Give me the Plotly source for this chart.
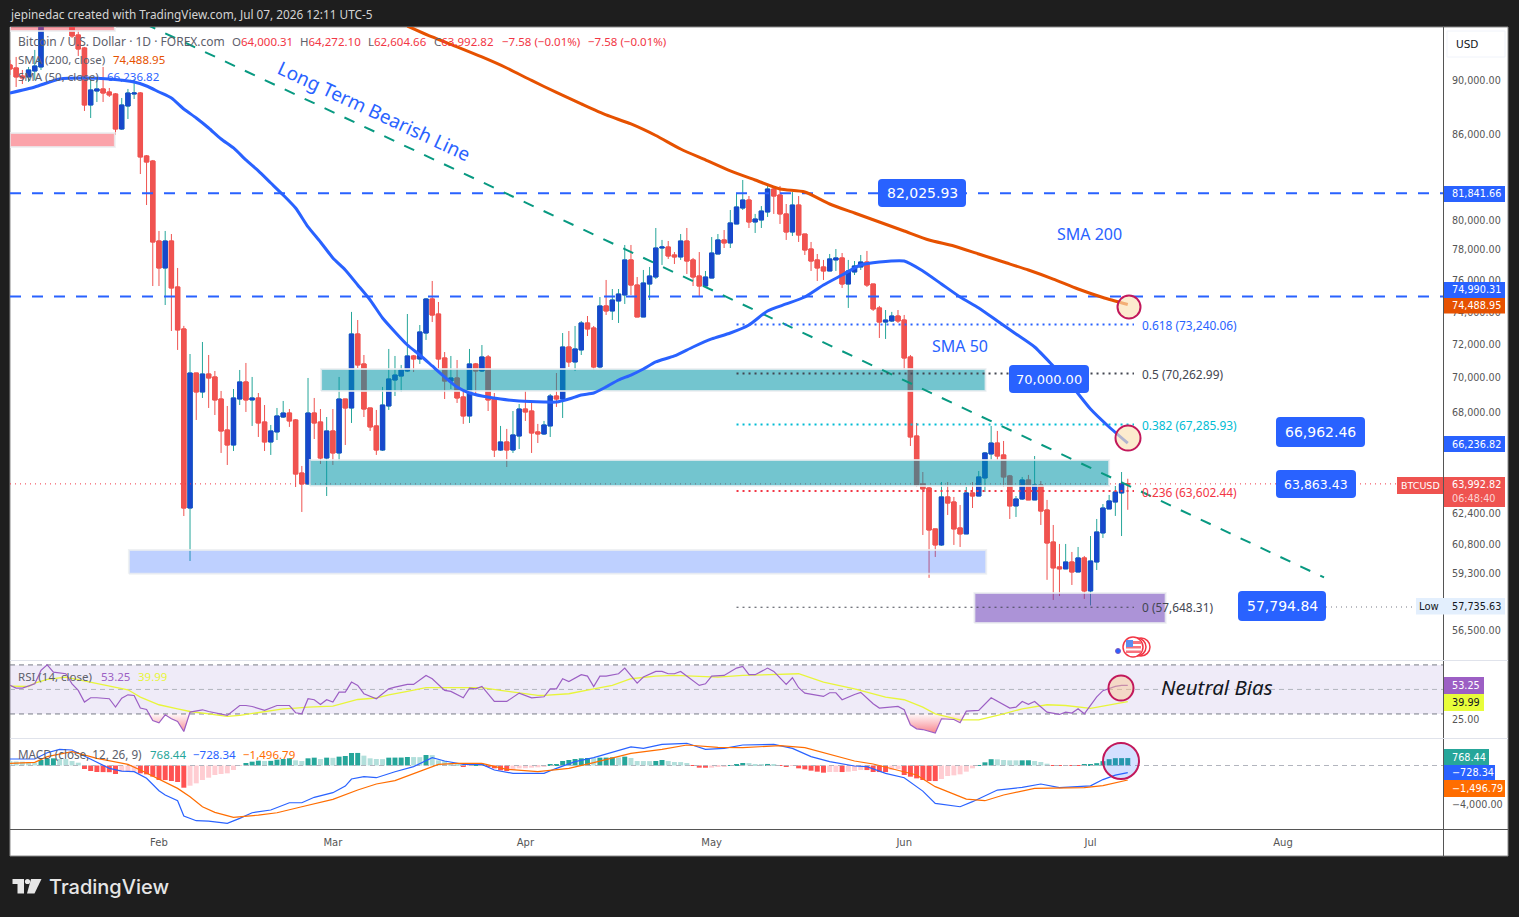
import numpy as np
import pandas as pd
import plotly.graph_objects as go

W, H = 1519, 917
first_of_feb = pd.Timestamp('2026-02-01')

# daily candles, Jan 8 to Jul 7 2026
opens = [91230, 91000, 90380, 90310, 90765, 91075, 95100, 95700, 96200, 95800, 94770, 93575, 92550, 88190, 89240, 89395, 89165, 89015, 86415, 88115, 89015, 89090, 84465, 84105,
         78600, 76825, 78600, 75600, 72960, 62700, 70290, 69170, 70230, 70055, 68760, 66980, 66135, 68760, 69760, 68705, 68820, 67435, 66305, 66870, 67720, 67950, 67550, 64585,
         63990, 67950, 67435, 65410, 66925, 65690, 68760, 68240, 72650, 70830, 68240, 67210, 65855, 68355, 69875, 70110, 70410, 71310, 71130, 72710, 74835, 73890, 71190, 69815,
         69995, 68880, 67780, 70830, 70410, 71250, 68760, 65855, 66305, 65855, 66640, 68180, 68065, 66870, 66755, 67210, 68935, 68760, 71855, 70950, 71675, 73330, 73020, 70650,
         74395, 74080, 74710, 75090, 77350, 75725, 73705, 75790, 76240, 78135, 78200, 77675, 77545, 78600, 77350, 76305, 75660, 76175, 77740, 78670, 78470, 79740, 80825, 81375,
         79875, 80010, 80555, 82135, 81720, 80420, 79200, 81030, 79065, 78070, 77350, 76890, 76630, 77350, 77480, 75790, 76565, 76890, 77215, 75790, 74270, 73390, 73455, 73765,
         73515, 71250, 66640, 63990, 63770, 61600, 60770, 63290, 63020, 61650, 61340, 63505, 63340, 64315, 65635, 66245, 65580, 64425, 62810, 63180, 64205, 63130, 63935, 62595,
         60920, 59650, 59550, 59900, 59395, 60105, 58450, 59900, 61390, 62650, 63020, 63505, 64000.31]
highs = [91615, 91850, 90843, 91075, 92400, 96000, 96300, 97000, 97400, 96600, 95130, 93970, 92630, 90230, 90310, 91075, 89470, 89090, 88715, 89395, 90155, 89165, 84535, 84180,
         79270, 79270, 79065, 76825, 73150, 71430, 70290, 72160, 71370, 70410, 69230, 68355, 69345, 70470, 70890, 70055, 69110, 68410, 67265, 68240, 68645, 68180, 67605, 64970,
         69995, 68820, 68180, 67720, 68180, 70055, 68760, 74020, 73515, 71370, 68240, 68125, 69465, 71735, 71310, 70770, 73890, 71370, 73205, 74900, 75985, 74645, 71550, 71310,
         71070, 69290, 71735, 70890, 71975, 71370, 69110, 67210, 67040, 68065, 68470, 69230, 68585, 67325, 67495, 69055, 70290, 72710, 72835, 73145, 73455, 73765, 73145, 74960,
         76050, 75470, 75470, 78335, 78335, 76240, 76695, 76890, 79470, 78670, 78600, 77870, 79065, 79470, 77480, 77870, 76630, 78865, 79065, 79335, 80690, 81790, 82765, 81650,
         80420, 80960, 82415, 82345, 82345, 81100, 81930, 81650, 79065, 78535, 77740, 77350, 77740, 78070, 77805, 77350, 77280, 77675, 77940, 75790, 74395, 74140, 74020, 74140,
         73830, 71370, 67380, 64640, 63825, 61600, 64095, 64095, 63290, 62860, 63825, 64095, 64695, 65745, 67210, 66925, 66360, 64480, 63340, 64370, 64480, 65520, 64150, 63130,
         61805, 60820, 60820, 60410, 60665, 60205, 61230, 62120, 62910, 63395, 63880, 64640, 64272.10]
lows = [90460, 89545, 89770, 89925, 90077, 90843, 94800, 95200, 95500, 95000, 93340, 91925, 87745, 87225, 88415, 88415, 88790, 85975, 86345, 87150, 88640, 83185, 81030, 75660,
        75660, 74455, 72835, 71675, 62275, 59950, 67550, 68820, 68240, 67835, 65690, 65025, 65800, 68410, 68010, 67210, 66585, 65800, 65580, 66415, 67665, 67155, 63825, 62490,
        63935, 66470, 65080, 63340, 65025, 65245, 66135, 67380, 70590, 67720, 66925, 65580, 65800, 68125, 68935, 69170, 70350, 70350, 70830, 72285, 73390, 70470, 68760, 69345,
        68530, 67325, 67380, 68935, 70350, 68065, 65465, 65800, 64915, 65690, 65910, 67495, 65690, 66245, 66700, 66585, 68300, 67665, 70650, 70410, 71370, 72525, 70470, 70530,
        73830, 73515, 73330, 74520, 75090, 73705, 73705, 74770, 76110, 77020, 77415, 77085, 77350, 76435, 75660, 75025, 75600, 76175, 77740, 78135, 78135, 79740, 80690, 79470,
        79135, 79470, 80215, 80420, 79740, 78670, 78935, 78535, 77675, 76630, 75985, 76050, 76630, 76630, 75535, 74270, 76370, 76695, 75600, 74080, 72405, 72345, 73390, 73330,
        70470, 66080, 63825, 61285, 59100, 60155, 60720, 62330, 60770, 60665, 61340, 62700, 63340, 63555, 65300, 65300, 63825, 62120, 62225, 63130, 63130, 63130, 61805, 59000,
        58005, 58200, 59550, 58745, 59395, 58055, 57735.63, 59495, 61130, 62650, 62280, 61230, 62604.66]
closes = [90920, 90310, 90230, 90843, 91150, 95130, 95700, 96200, 95800, 95300, 93495, 92470, 88190, 89318, 89395, 89090, 88940, 86415, 88190, 89090, 89090, 84395, 84035, 78535,
          76825, 78600, 75535, 72900, 62700, 70290, 69170, 70230, 69995, 68705, 66925, 66135, 68820, 69760, 68705, 68820, 67380, 66305, 66925, 67780, 67950, 67495, 64530, 63990,
          67950, 67380, 65410, 66925, 65690, 68760, 68240, 72650, 70770, 68180, 67155, 65855, 68410, 69935, 70170, 70470, 71310, 71130, 72775, 74835, 73825, 71130, 69815, 69995,
          68820, 67780, 70830, 70410, 71250, 68705, 65855, 66305, 65855, 66700, 68180, 68010, 66810, 66755, 67265, 68935, 68760, 71855, 70950, 71735, 73330, 72960, 70650, 74395,
          74080, 74770, 75150, 77350, 75725, 73705, 75855, 76305, 78135, 78200, 77610, 77545, 78600, 77280, 76240, 75660, 76240, 77805, 78670, 78470, 79810, 80895, 81375, 79875,
          80075, 80620, 82135, 81650, 80420, 79200, 81030, 79000, 78005, 77280, 76825, 76630, 77415, 77480, 75790, 76630, 76955, 77215, 75725, 74205, 73390, 73515, 73765, 73455,
          71190, 66585, 63935, 63720, 61545, 60770, 63290, 62965, 61600, 61340, 63505, 63340, 64370, 65690, 66245, 65520, 64370, 62810, 63180, 64205, 63130, 63935, 62540, 60870,
          59600, 59550, 59900, 59395, 60105, 58450, 59950, 61440, 62700, 63075, 63555, 64000, 63992.82]

# moving averages, read every few days (days counted from Feb 1)
sma50_days = [-24, -20, -16, -12, -8, -4, -2, 0, 2, 4, 6, 8, 10, 12, 14, 16, 18, 20, 22, 24, 26, 28, 30, 32, 34, 36, 38, 40, 42, 44, 46, 48, 50, 52, 55, 58, 62, 64, 66, 68, 70, 72, 74, 76, 78, 80, 83, 86, 89, 92, 95, 98, 101, 104, 107, 110, 113, 116, 120, 123, 126, 129, 132, 135, 138, 141, 144, 147, 150, 153, 156]
sma50_vals = [89090, 89545, 90150, 90230, 90150, 89925, 89620, 89165, 88715, 87890, 87225, 86490, 85690, 85040, 84180, 83400, 82555, 81720, 80825, 79540, 78535, 77480, 76695, 75730, 74772, 73640, 72775, 71975, 71370, 70710, 70055, 69465, 69110, 68935, 68760, 68645, 68585, 68585, 68760, 68995, 69110, 69465, 69876, 70170, 70530, 70950, 71310, 71855, 72345, 72710, 73205, 74080, 74520, 74960, 75725, 76370, 77020, 77215, 77280, 76630, 75790, 74960, 74270, 73455, 72650, 71855, 70710, 69520, 68180, 67150, 66236.82]
sma200_days = [40, 44, 48, 52, 56, 60, 64, 68, 72, 76, 80, 84, 88, 92, 96, 100, 104, 108, 112, 116, 120, 124, 128, 132, 136, 140, 144, 148, 152, 156]
sma200_vals = [94280, 93415, 92640, 91847, 90995, 90040, 89130, 88270, 87450, 86785, 85940, 84965, 84180, 83400, 82766, 82140, 81930, 81100, 80485, 79875, 79270, 78667, 78270, 77740, 77215, 76695, 76110, 75470, 74930, 74488.95]

# drawn levels and zones
h_levels = [81841.66, 74990.31]
fib_prices = [73240.06, 70262.99, 67285.93, 63602.44, 57648.31]
fib_colors = ['#2962ff', '#434651', '#00bcd4', '#f23645', '#434651']
trend_days = [-2.2, 187.6]
trend_prices = [94450, 59120]
zones = [
    (-24, -7.1, 85110, 86130, 'rgba(247,60,75,0.47)'),
    (-24, -7.1, 93890, 95000, 'rgba(247,60,75,0.47)'),
    (-4.84, 133.2, 59300, 60510, 'rgba(41,98,255,0.3)'),
    (26.1, 133.1, 69230, 70530, 'rgba(0,149,167,0.55)'),
    (24.3, 153.0, 63880, 65300, 'rgba(0,149,167,0.55)'),
    (131.3, 162.1, 56880, 58350, 'rgba(103,58,183,0.55)'),
]

rsi_days = [-24, -23, -22, -20, -19, -18, -17, -15, -14, -13, -12, -11, -10, -8, -7, -6, -5, -4, -3, -2, -1, 0, 1, 2, 3, 4, 5, 7, 8, 11, 13, 14, 15, 17, 19, 21, 22, 23, 24, 25, 26, 27, 28, 29, 30, 31, 32, 33, 35, 37, 38, 40, 41, 43, 44, 46, 47, 49, 50, 51, 52, 54, 56, 58, 60, 62, 63, 64, 65, 66, 68, 69, 70, 71, 72, 74, 75, 77, 78, 80, 81, 82, 83, 84, 87, 88, 89, 91, 93, 94, 95, 96, 98, 99, 101, 102, 103, 104, 107, 108, 109, 110, 112, 113, 115, 116, 119, 120, 121, 122, 123, 125, 126, 128, 129, 130, 132, 134, 137, 138, 139, 140, 141, 143, 145, 146, 147, 148, 149, 150, 151, 152, 153, 154, 155, 156]
rsi_vals = [53.3, 51.1, 51.1, 54.6, 65.5, 70.1, 64.1, 62.8, 54.6, 49.2, 39.7, 43.2, 43.2, 42.4, 35.6, 42.9, 45.6, 45.1, 34.8, 33.7, 24.7, 22.8, 29.3, 26.1, 23.9, 15.7, 31.5, 33.4, 32, 28.8, 36.9, 36.9, 36.1, 32.9, 36.9, 36.9, 31, 30.1, 42.4, 41.6, 37.8, 41.6, 39.7, 47.8, 47.8, 56, 53.3, 46.5, 42.4, 50.5, 51.9, 54.1, 54.1, 61.4, 58.7, 49.2, 48.4, 43.2, 51.1, 50.5, 52.4, 40.2, 40.2, 47, 43.2, 44, 50.5, 50.5, 58.7, 56.5, 62, 60.9, 52.4, 60.9, 60.9, 62.8, 67.4, 55.2, 60.1, 64.7, 64.7, 62.8, 62.8, 64.7, 53.3, 54.6, 60.9, 61.4, 67.4, 68.8, 62, 62, 67.4, 64.7, 54.1, 59.5, 51.4, 47, 44.3, 47.3, 47.3, 41.6, 45.9, 47.6, 38.3, 34.8, 36.1, 33.4, 21.2, 17.9, 17.3, 14.4, 26.1, 25.5, 22.8, 32.3, 32.9, 43.2, 34.8, 35.6, 40.2, 37.8, 40.2, 31.5, 29.6, 31.5, 30.7, 34.2, 30.1, 37, 44, 49, 51, 52.5, 53.3, 53.25]
rsi_ma_days = [-24, -21, -20, -18, -15, -11, -8, -5, -3, 0, 3, 5, 8, 11, 13, 17, 20, 22, 24, 28, 32, 35, 37, 40, 43, 47, 52, 55, 58, 61, 62, 66, 70, 73, 76, 80, 83, 87, 90, 94, 98, 103, 107, 112, 117, 120, 123, 125, 129, 132, 136, 139, 143, 146, 150, 153, 156]
rsi_ma_vals = [52.7, 52.4, 55.2, 58.2, 60.1, 56, 53.3, 49.7, 43.7, 37.5, 34.2, 32, 30.1, 28, 28.8, 32, 34.2, 34.8, 35.6, 36.4, 41.8, 43, 45.6, 48.4, 51.4, 51.4, 51.4, 49.2, 47, 45.1, 45.1, 46.5, 50.5, 53.3, 58.7, 60.9, 61.4, 60.9, 60.1, 61.4, 62, 62.8, 56, 50.5, 43.7, 41.6, 35.6, 30.1, 25.2, 25.2, 30.1, 34.2, 37.5, 36.9, 34.5, 37, 39.99]

macd_days = [-24, -20, -18, -16, -14, -12, -10, -8, -6, -4, -2, 0, 1, 3, 4, 6, 8, 11, 13, 15, 18, 21, 23, 25, 28, 30, 31, 33, 35, 38, 41, 44, 46, 49, 52, 54, 57, 62, 64, 67, 70, 74, 76, 78, 81, 85, 88, 91, 94, 99, 102, 105, 108, 112, 114, 117, 120, 123, 125, 129, 131, 135, 139, 142, 145, 150, 152, 154, 156]
macd_vals = [670, 670, 1320, 1670, 1600, 980, 395, -290, -570, -640, -1320, -2600, -3040, -3630, -5210, -5690, -5730, -5970, -5450, -4870, -4590, -3840, -3840, -3280, -2800, -2120, -1390, -1150, -1260, -640, -120, 810, 465, 120, 120, -465, -810, -810, -290, 395, 810, 1500, 1910, 1770, 2180, 2290, 1670, 1770, 2115, 2180, 1770, 910, 395, -50, -120, -810, -1260, -2640, -3900, -4250, -3730, -2530, -2250, -1910, -2290, -2100, -1450, -1000, -728.34]
signal_days = [-24, -20, -18, -14, -10, -5, -3, 0, 3, 5, 7, 9, 12, 16, 19, 23, 28, 32, 35, 38, 42, 45, 48, 52, 56, 61, 66, 70, 76, 81, 85, 90, 94, 100, 104, 108, 112, 115, 119, 122, 125, 128, 130, 133, 136, 141, 145, 149, 152, 154, 156]
signal_vals = [220, 330, 910, 1430, 740, 120, -465, -1390, -2360, -3220, -4250, -4830, -5350, -5110, -4870, -4250, -3490, -2530, -1910, -1565, -640, 120, 220, 220, -400, -640, -290, 290, 1255, 1670, 2115, 1875, 1840, 2050, 1840, 1190, 465, 155, -465, -980, -2180, -2940, -3460, -3630, -3040, -2360, -2290, -2290, -2080, -1800, -1496.79]
hist_vals = [460, 420, 395, 330, 300, 570, 670, 740, 670, 660, 460, 290, -361, -568, -671, -680, -690, -877, -636, -630, -620, -808, -912, -1152,
             -1496, -1500, -1600, -1703, -2288, -2081, -1840, -1496, -1256, -980, -877, -808, -464, -17, 258, 396, 499, 464, 480, 602, 671, 740, 533, 464,
             740, 808, 671, 808, 790, 912, 980, 1290, 1295, 1015, 740, 671, 660, 808, 815, 820, 877, 870, 860, 1084, 1070, 533, 464, 189,
             86, -120, -17, 52, 120, -52, -292, -499, -568, -464, -292, -285, -224, -189, -86, 86, 155, 464, 568, 671, 740, 774, 760, 808,
             815, 843, 830, 912, 774, 464, 460, 455, 464, 568, 464, 361, 355, 258, -17, -224, -230, -224, -120, -86, 52, 155, 258, 250,
             155, 150, 160, 155, -17, -120, -17, -292, -396, -533, -636, -740, -671, -665, -675, -636, -568, -464, -470, -671, -675, -680, -464, -361,
             -980, -1152, -1325, -1496, -1600, -1605, -1393, -1084, -1015, -912, -636, -292, 52, 327, 650, 636, 568, 533, 530, 533, 540, 464, 361, 189,
             -17, -20, -25, -30, -35, 60, 103, 240, 447, 653, 756, 760, 768.44]

month_days = [0, 28, 59, 89, 120, 150, 181]
month_names = ['Feb', 'Mar', 'Apr', 'May', 'Jun', 'Jul', 'Aug']
price_ticks = [90000, 86000, 80000, 78000, 76000, 74000, 72000, 70000, 68000, 62400, 60800, 59300, 56500]


def day(i):
    return first_of_feb + pd.to_timedelta(np.asarray(i, dtype=float), unit='D')


def px(x):
    return x / W


def py(y):
    return 1 - y / H


dates = pd.date_range('2026-01-08', periods=len(opens))
x_range = [first_of_feb + pd.Timedelta(days=-23.99), first_of_feb + pd.Timedelta(days=206.76)]

fig = go.Figure()

# wicks first (teal / red), bodies on top (blue / red)
fig.add_trace(go.Candlestick(x=dates, open=opens, high=highs, low=lows, close=closes, whiskerwidth=0,
                             increasing=dict(line=dict(color='#26a69a', width=1), fillcolor='#26a69a'),
                             decreasing=dict(line=dict(color='#ef5350', width=1), fillcolor='#ef5350'),
                             hoverinfo='skip'))
body_hi = np.maximum(opens, closes)
body_lo = np.minimum(opens, closes)
fig.add_trace(go.Candlestick(x=dates, open=opens, high=body_hi, low=body_lo, close=closes, whiskerwidth=0,
                             increasing=dict(line=dict(color='#1848cc', width=1), fillcolor='#1848cc'),
                             decreasing=dict(line=dict(color='#f05350', width=1), fillcolor='#f05350'),
                             hoverinfo='skip'))

# price line of the last close
fig.add_trace(go.Scatter(x=x_range, y=[closes[-1]] * 2, mode='lines', line=dict(color='#f23645', width=1, dash='1px,4px'), hoverinfo='skip'))

for d0, d1, p0, p1, col in zones:
    fig.add_trace(go.Scatter(x=day([d0, d1, d1, d0, d0]), y=[p0, p0, p1, p1, p0], mode='lines', fill='toself',
                             fillcolor=col, line=dict(color='rgba(235,237,240,0.8)', width=2), hoverinfo='skip'))

for lvl in h_levels:
    fig.add_trace(go.Scatter(x=x_range, y=[lvl, lvl], mode='lines', line=dict(color='#2962ff', width=2, dash='11px,11px'), hoverinfo='skip'))

fig.add_trace(go.Scatter(x=day(trend_days), y=trend_prices, mode='lines', line=dict(color='#089981', width=2, dash='11px,11px'), hoverinfo='skip'))

for val, col in zip(fib_prices, fib_colors):
    fig.add_trace(go.Scatter(x=day([93, 157]), y=[val, val], mode='lines', line=dict(color=col, width=2 if val > 60000 else 1, dash='2px,4px'), hoverinfo='skip'))

fig.add_trace(go.Scatter(x=day(sma50_days), y=sma50_vals, mode='lines', line=dict(color='#2962ff', width=3, shape='spline', smoothing=0.6), hoverinfo='skip'))
fig.add_trace(go.Scatter(x=day(sma200_days), y=sma200_vals, mode='lines', line=dict(color='#e65100', width=3, shape='spline', smoothing=0.6), hoverinfo='skip'))

# RSI pane
band_x = x_range
fig.add_trace(go.Scatter(x=band_x, y=[30, 30], mode='lines', line=dict(width=0), yaxis='y2', hoverinfo='skip'))
fig.add_trace(go.Scatter(x=band_x, y=[70, 70], mode='lines', line=dict(width=0), fill='tonexty', fillcolor='rgba(126,87,194,0.12)', yaxis='y2', hoverinfo='skip'))
for lvl, col in [(70, '#787b86'), (50, '#b2b5be'), (30, '#787b86')]:
    fig.add_trace(go.Scatter(x=band_x, y=[lvl, lvl], mode='lines', line=dict(color=col, width=1, dash='5px,4px'), yaxis='y2', hoverinfo='skip'))
rsi_x = day(rsi_days)
fig.add_trace(go.Scatter(x=rsi_x, y=[30] * len(rsi_vals), mode='lines', line=dict(width=0), yaxis='y2', hoverinfo='skip'))
fig.add_trace(go.Scatter(x=rsi_x, y=np.minimum(rsi_vals, 30), mode='lines', line=dict(width=0), fill='tonexty',
                         fillgradient=dict(type='vertical', colorscale=[[0, 'rgba(242,54,69,0.6)'], [1, 'rgba(242,54,69,0.03)']]),
                         yaxis='y2', hoverinfo='skip'))
fig.add_trace(go.Scatter(x=day(rsi_ma_days), y=rsi_ma_vals, mode='lines', line=dict(color='#e8f53a', width=1.3), yaxis='y2', hoverinfo='skip'))
fig.add_trace(go.Scatter(x=rsi_x, y=rsi_vals, mode='lines', line=dict(color='#9c5fc4', width=1.2), yaxis='y2', hoverinfo='skip'))

# MACD pane
fig.add_trace(go.Scatter(x=band_x, y=[0, 0], mode='lines', line=dict(color='#b2b5be', width=1, dash='5px,4px'), yaxis='y3', hoverinfo='skip'))
bar_colors = []
for n, v in enumerate(hist_vals):
    prev = hist_vals[n - 1] if n else v - 1 if v < 0 else v + 1
    if v >= 0:
        bar_colors.append('#26a69a' if v > prev else '#b2dfdb')
    else:
        bar_colors.append('#ff5252' if v < prev else '#ffcdd2')
fig.add_trace(go.Bar(x=dates, y=hist_vals, marker=dict(color=bar_colors, line=dict(width=0)), width=0.8 * 86400000, yaxis='y3', hoverinfo='skip'))
fig.add_trace(go.Scatter(x=day(macd_days), y=macd_vals, mode='lines', line=dict(color='#2962ff', width=1.2), yaxis='y3', hoverinfo='skip'))
fig.add_trace(go.Scatter(x=day(signal_days), y=signal_vals, mode='lines', line=dict(color='#ff6d00', width=1.2), yaxis='y3', hoverinfo='skip'))

shapes = []
annotations = []


def note(x, y, text, size=12, color='#555555', anchor='left', font='Noto Sans', **kw):
    # annotations carry about 2px of padding, pull left aligned text back
    if anchor == 'left':
        x -= 2
    annotations.append(dict(x=px(x), y=py(y), xref='paper', yref='paper', text=text, showarrow=False, xanchor=anchor, yanchor='middle',
                            font=dict(family=font, size=size, color=color), **kw))


def box(x0, y0, x1, y1, color, layer='above', line=None, width=0):
    shapes.append(dict(type='rect', xref='paper', yref='paper', x0=px(x0), x1=px(x1), y0=py(y0), y1=py(y1), fillcolor=color, layer=layer,
                       line=dict(color=line, width=width) if line else dict(width=0)))


def hline(x0, x1, y, color, width=1, dash='solid', layer='above'):
    shapes.append(dict(type='line', xref='paper', yref='paper', x0=px(x0), x1=px(x1), y0=py(y), y1=py(y), layer=layer, line=dict(color=color, width=width, dash=dash)))


def vline(x, y0, y1, color, width=1):
    shapes.append(dict(type='line', xref='paper', yref='paper', x0=px(x), x1=px(x), y0=py(y0), y1=py(y1), line=dict(color=color, width=width)))


def circle(x, y, r, fill, line='#c2185b', width=2):
    shapes.append(dict(type='circle', xref='paper', yref='paper', x0=px(x - r), x1=px(x + r), y0=py(y - r), y1=py(y + r), fillcolor=fill, line=dict(color=line, width=width)))


def pill(x0, y0, x1, y1, text, r=4, size=14):
    X0, X1, Y0, Y1 = px(x0), px(x1), py(y0), py(y1)
    rx, ry = r / W, r / H
    path = (f'M {X0 + rx} {Y0} L {X1 - rx} {Y0} Q {X1} {Y0} {X1} {Y0 - ry} L {X1} {Y1 + ry} Q {X1} {Y1} {X1 - rx} {Y1} '
            f'L {X0 + rx} {Y1} Q {X0} {Y1} {X0} {Y1 + ry} L {X0} {Y0 - ry} Q {X0} {Y0} {X0 + rx} {Y0} Z')
    shapes.append(dict(type='path', xref='paper', yref='paper', path=path, fillcolor='#2962ff', line=dict(width=0)))
    note((x0 + x1) / 2, (y0 + y1) / 2, text, size=size, color='white', anchor='center', font='DejaVu Sans')


def tag(x0, y0, x1, y1, color, text, text_color='white', x_text=1452, anchor='left'):
    box(x0, y0, x1, y1, color)
    note(x_text, (y0 + y1) / 2, text, size=9.7, color=text_color, anchor=anchor, font='DejaVu Sans')


# page frame
box(10, 27, 1508, 856, 'white', layer='below', line='#8a8a8a', width=1)
vline(1443.5, 27, 856, '#555555')
hline(10, 1508, 829.5, '#555555')
hline(10, 1508, 660.5, '#e0e3eb')
hline(10, 1508, 738.5, '#e0e3eb')

# header and logo
note(10, 14, 'jepinedac created with TradingView.com, Jul 07, 2026 12:11 UTC-5', size=11.8, color='#d4d4d4', font='Noto Sans')
note(49, 887, 'TradingView', size=20, color='#e6e6e6', font='Inter')
annotations[-1]['font']['weight'] = 500
box(12.5, 879, 24, 884, '#e6e6e6')
box(17.5, 879, 24, 893.5, '#e6e6e6')
circle(27.5, 881.5, 2.6, '#e6e6e6', line='#e6e6e6', width=0)
x_a, x_b, x_c, x_d = px(31), px(41.5), px(34.5), px(27)
shapes.append(dict(type='path', xref='paper', yref='paper', path=f'M {x_a} {py(879)} L {x_b} {py(879)} L {x_c} {py(893.5)} L {x_d} {py(893.5)} Z', fillcolor='#e6e6e6', line=dict(width=0)))

# legends, top left
note(18, 42, 'Bitcoin / U.S. Dollar · 1D · FOREX.com', color='#5d606b')
for xv, label, value in [(232, 'O', '64,000.31'), (300, 'H', '64,272.10'), (368, 'L', '62,604.66'), (434, 'C', '63,992.82')]:
    note(xv, 42, f"<span style='color:#5d606b'>{label}</span>{value}", size=11.5, color='#f23645')
note(502, 42, '−7.58 (−0.01%)', size=11.5, color='#f23645')
note(588, 42, '−7.58 (−0.01%)', size=11.5, color='#f23645')
note(18, 59, "SMA (200, close)", size=11.5, color='#5d606b')
note(113, 59, '74,488.95', size=11.5, color='#e65100')
note(18, 76, "SMA (50, close)", size=11.5, color='#5d606b')
note(107, 76, '66,236.82', size=11.5, color='#2962ff')
note(18, 676, 'RSI (14, close)', size=11.5, color='#5d606b')
note(101, 676, '53.25', size=11.5, color='#9c5fc4')
note(138, 676, '39.99', size=11.5, color='#e8f53a')
note(18, 754, 'MACD (close, 12, 26, 9)', size=11.7, color='#5d606b')
note(150, 754, '768.44', size=11.5, color='#26a69a')
note(193, 754, '−728.34', size=11.5, color='#2962ff')
note(243, 754, '−1,496.79', size=11.5, color='#ff6d00')

# chart labels
note(374, 111, 'Long Term Bearish Line', size=19, color='#2962ff', anchor='center', textangle=25)
note(1089, 234, 'SMA 200', size=16, color='#2962ff', anchor='center')
note(960, 346, 'SMA 50', size=16, color='#2962ff', anchor='center')
note(1217, 687, '<i>Neutral Bias</i>', size=20.5, color='#131722', anchor='center')
pill(878, 179, 966, 207, '82,025.93')
pill(1009, 365, 1089, 393, '70,000.00', size=13)
pill(1276, 417, 1365, 447, '66,962.46')
pill(1276, 470, 1356, 498, '63,863.43', size=12.5)
pill(1238, 591, 1326, 621, '57,794.84')

# fib labels
for y_lab, lab, col in [(325, '0.618 (73,240.06)', '#2962ff'), (374, '0.5 (70,262.99)', '#434651'), (425, '0.382 (67,285.93)', '#00bcd4'),
                        (492, '0.236 (63,602.44)', '#f23645'), (607, '0 (57,648.31)', '#434651')]:
    note(1142, y_lab, lab, size=11.9, color=col)

# low marker line
hline(1326, 1416, 607, '#787b86', dash='1px,4px')

# right scale tags
box(1447, 31, 1505, 57, 'white', line='#f0f3fa', width=1)
note(1456, 44, 'USD', size=10.5, color='#131722', font='DejaVu Sans')
tag(1444, 186, 1505, 202, '#2962ff', '81,841.66')
tag(1444, 282, 1505, 298, '#2962ff', '74,990.31')
tag(1444, 298, 1505, 313.5, '#e65100', '74,488.95')
tag(1444, 436, 1505, 452, '#2962ff', '66,236.82')
box(1444, 477, 1505, 507, '#ef5350')
note(1452, 485, '63,992.82', size=9.7, color='white', font='DejaVu Sans')
note(1452, 498, '06:48:40', size=9.7, color='#fbd5d5', font='DejaVu Sans')
box(1397, 477, 1443, 494, '#ef5350')
note(1420, 485.5, 'BTCUSD', size=9.5, color='white', anchor='center', font='DejaVu Sans')
box(1416, 598, 1505, 614.5, '#e3effd')
note(1429, 606.5, 'Low', size=10, color='#131722', anchor='center', font='DejaVu Sans')
note(1452, 606.5, '57,735.63', size=9.7, color='#131722', font='DejaVu Sans')
tag(1444, 677, 1484, 694, '#9c5fc4', '53.25')
tag(1444, 694, 1484, 711, '#e8fd3a', '39.99', text_color='#131722')
tag(1444, 749, 1489, 765, '#26a69a', '768.44')
tag(1444, 765, 1495, 780, '#2962ff', '−728.34')
tag(1444, 780, 1505, 797, '#ff6d00', '−1,496.79')

# highlight circles
circle(1129, 307, 11.5, 'rgba(250,225,180,0.65)')
circle(1128, 438, 12.5, 'rgba(250,225,180,0.65)')
circle(1121, 688, 12.5, 'rgba(250,195,140,0.45)')
circle(1121, 761, 18, 'rgba(41,98,255,0.2)')

# event markers under the last candles
circle(1118, 651, 2.5, '#2962ff', line='#7e57c2', width=1)
for xc in (1141, 1137):
    circle(xc, 647, 9, 'white', line='#f23645', width=1.5)
circle(1133, 647, 10, 'white', line='#f23645', width=1.5)
box(1126, 641, 1141, 653, '#f7737d')
box(1126, 644, 1141, 646, 'white')
box(1126, 648.5, 1141, 650.5, 'white')
box(1126, 640, 1133, 647, '#5b8def')

fig.update_layout(
    width=W, height=H, margin=dict(l=0, r=0, t=0, b=0), autosize=False,
    paper_bgcolor='#1e1e1e', plot_bgcolor='rgba(0,0,0,0)',
    showlegend=False, boxmode='overlay', boxgap=0.3, boxgroupgap=0, barmode='overlay',
    xaxis=dict(domain=[px(10), px(1443)], range=x_range, type='date', anchor='y3', rangeslider=dict(visible=False),
               tickmode='array', tickvals=list(day(month_days)), ticktext=month_names, ticks='outside', ticklen=4, tickcolor='rgba(0,0,0,0)',
               tickfont=dict(family='DejaVu Sans', size=10, color='#555555'), showgrid=False, zeroline=False, showline=False),
    yaxis=dict(domain=[py(660), py(27)], type='log', range=[4.74139, 4.97409], side='right', anchor='x', showgrid=False, zeroline=False, showline=False,
               tickmode='array', tickvals=price_ticks, tickformat=',.2f', ticks='outside', ticklen=6, tickcolor='rgba(0,0,0,0)',
               tickfont=dict(family='DejaVu Sans', size=9.6, color='#555555')),
    yaxis2=dict(domain=[py(738), py(660)], range=[10.4, 74], side='right', anchor='x', showgrid=False, zeroline=False, showline=False,
                tickmode='array', tickvals=[25], tickformat='.2f', ticks='outside', ticklen=6, tickcolor='rgba(0,0,0,0)',
                tickfont=dict(family='DejaVu Sans', size=9.6, color='#555555')),
    yaxis3=dict(domain=[py(829), py(738)], range=[-6546, 2835], side='right', anchor='x', showgrid=False, zeroline=False, showline=False,
                tickmode='array', tickvals=[-4000], tickformat=',.2f', ticks='outside', ticklen=6, tickcolor='rgba(0,0,0,0)',
                tickfont=dict(family='DejaVu Sans', size=9.6, color='#555555')),
    shapes=shapes, annotations=annotations,
)

fig.write_html("out.html", config={'displayModeBar': False},
               post_script="document.body.style.margin='0';document.body.style.overflow='hidden';")
